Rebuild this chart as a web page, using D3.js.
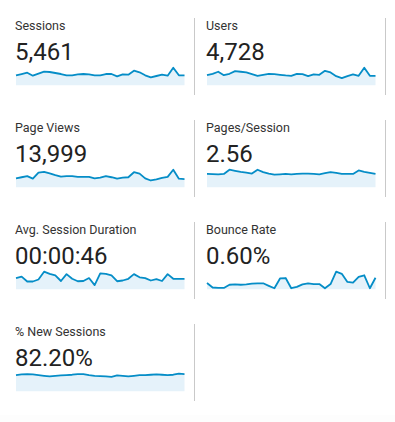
<!DOCTYPE html>
<html>
<head>
<meta charset="utf-8">
<script src="https://cdn.jsdelivr.net/npm/d3@7"></script>
<style>
  body { margin: 0; background: #fff; }
  text { font-family: Roboto, "Noto Sans", sans-serif; fill: #222; }
  .label { fill: #333; }
</style>
</head>
<body>
<div id="chart"></div>
<script>
// metric names and totals
var metricNames = ["Sessions", "Users", "Page Views", "Pages/Session", "Avg. Session Duration", "Bounce Rate", "% New Sessions"];
var metricTotals = ["5,461", "4,728", "13,999", "2.56", "00:00:46", "0.60%", "82.20%"];

// daily values
var sessions = [160,181,202,154,186,218,213,197,181,160,160,176,181,176,160,160,181,181,144,176,170,234,208,160,128,149,170,154,282,160,160];
var users = [138,157,185,138,157,194,185,175,152,129,143,157,152,143,134,129,157,152,125,148,143,198,175,125,97,125,148,129,240,129,129];
var pageViews = [375,420,465,360,615,645,585,510,450,465,465,435,435,435,375,405,465,420,360,405,420,630,570,375,285,330,390,435,735,360,345];
var pagesPerSession = [2.51,2.48,2.44,2.51,3.30,3.10,2.90,2.77,2.57,3.30,2.84,2.57,2.38,2.44,2.51,2.44,2.51,2.57,2.57,2.51,2.44,2.64,2.84,2.71,2.51,2.51,2.51,3.17,2.90,2.71,2.51];
var avgDuration = [46,52,32,32,40,72,63,57,34,62,43,33,34,46,17,65,63,57,33,36,43,62,49,46,36,42,34,62,43,43,43];
var bounceRate = [0.60,0.17,0.13,0.13,0.43,0.47,0.43,0.47,0.53,0.57,0.57,0.33,0.10,1.03,1.07,0.10,0.23,0.47,0.57,0.50,0.50,0.10,0.50,1.67,1.47,0.70,0.63,1.17,1.33,0.10,1.10];
var newSessions = [82.0,85.5,87.3,85.5,82.0,78.5,75.0,78.5,80.3,82.0,83.8,87.3,87.3,82.0,78.5,76.8,75.0,73.3,80.3,78.5,75.0,78.5,82.0,82.0,83.8,85.5,83.8,82.0,83.8,89.0,87.3];

var metricSeries = [sessions, users, pageViews, pagesPerSession, avgDuration, bounceRate, newSessions];

var svgWidth = 395;
var svgHeight = 422;

var colWidth = 191;
var rowHeight = 102;
var sparkWidth = 168.5;
var sparkHeight = 17.6;

var svg = d3.select("#chart")
  .append("svg")
  .attr("width", svgWidth)
  .attr("height", svgHeight);

// very faint band at the bottom edge
svg.append("rect")
  .attr("x", 0)
  .attr("y", 415)
  .attr("width", svgWidth)
  .attr("height", 7)
  .attr("fill", "#fdfdfd");

metricNames.forEach(function(name, i) {
  var col = i % 2;
  var row = Math.floor(i / 2);
  var x0 = 15 + col * colWidth;
  var y0 = row * rowHeight;

  var g = svg.append("g")
    .attr("transform", `translate(${x0}, ${y0})`);

  // divider on the right
  g.append("line")
    .attr("x1", 179.5)
    .attr("x2", 179.5)
    .attr("y1", 18)
    .attr("y2", 95)
    .attr("stroke", "#c9c9c9")
    .attr("stroke-width", 1);

  g.append("text")
    .attr("class", "label")
    .attr("x", 0)
    .attr("y", 30)
    .style("font-size", "12.5px")
    .text(name);

  g.append("text")
    .attr("x", 0)
    .attr("y", 60)
    .style("font-size", "24px")
    .text(metricTotals[i]);

  var data = metricSeries[i];
  var bottom = 85.3;

  var xScale = d3.scaleLinear()
    .domain([0, data.length - 1])
    .range([1, 1 + sparkWidth]);

  var yScale = d3.scaleLinear()
    .domain([0, d3.max(data)])
    .range([bottom, bottom - sparkHeight]);

  var area = d3.area()
    .x((d, j) => xScale(j))
    .y0(bottom)
    .y1(d => yScale(d));

  var line = d3.line()
    .x((d, j) => xScale(j))
    .y(d => yScale(d));

  g.append("path")
    .datum(data)
    .attr("d", area)
    .attr("fill", "#e5f2fa");

  g.append("path")
    .datum(data)
    .attr("d", line)
    .attr("fill", "none")
    .attr("stroke", "#058dc7")
    .attr("stroke-width", 1.8)
    .attr("stroke-linejoin", "round");
});
</script>
</body>
</html>
